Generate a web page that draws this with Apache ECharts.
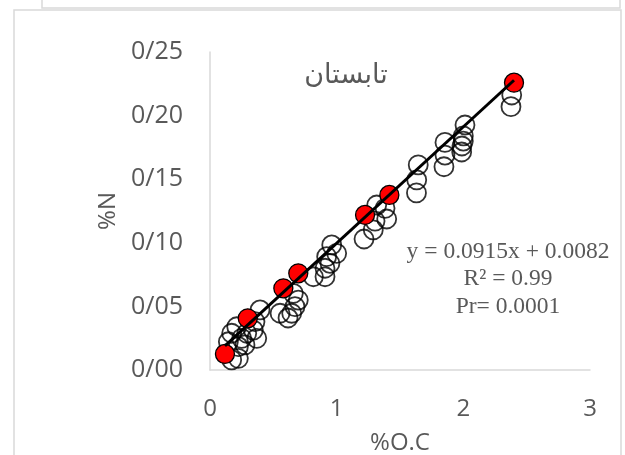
<!DOCTYPE html>
<html><head><meta charset="utf-8">
<script src="https://cdn.jsdelivr.net/npm/echarts@6/dist/echarts.min.js"></script>
<style>html,body{margin:0;padding:0;background:#fff}#c{width:625px;height:455px}</style>
</head><body><div id="c"></div>
<script>
// Open circles: [%O.C, %N]
const openX = [2.382, 2.376, 2.013, 2.000, 2.000, 1.989, 1.987, 1.855, 1.855, 1.847, 1.644, 1.632, 1.630,
  1.316, 1.382, 1.395, 1.303, 1.289, 1.216,
  0.961, 1.000, 0.921, 0.947, 0.908, 0.908, 0.816,
  0.658, 0.697, 0.671, 0.645, 0.616, 0.553,
  0.395, 0.355, 0.342, 0.369, 0.290, 0.250, 0.211, 0.171, 0.145, 0.224, 0.276, 0.224, 0.171];
const openY = [0.2162, 0.2070, 0.1926, 0.1840, 0.1800, 0.1761, 0.1714, 0.1789, 0.1690, 0.1598, 0.1612, 0.1494, 0.1392,
  0.1297, 0.1271, 0.1187, 0.1171, 0.1101, 0.1030,
  0.0983, 0.0917, 0.0891, 0.0839, 0.0800, 0.0733, 0.0733,
  0.0603, 0.0550, 0.0498, 0.0446, 0.0409, 0.0446,
  0.0472, 0.0380, 0.0314, 0.0249, 0.0289, 0.0249, 0.0340, 0.0289, 0.0222, 0.0183, 0.0197, 0.0092, 0.0079];
// Red (highlighted) points
const redX = [2.400, 1.416, 1.224, 0.697, 0.579, 0.298, 0.118];
const redY = [0.2259, 0.1376, 0.1219, 0.0760, 0.0642, 0.0406, 0.0126];
// Trendline
const slope = 0.0915, intercept = 0.0082;
const xTicks = [0, 1, 2, 3];
const yTicks = [0, 0.05, 0.10, 0.15, 0.20, 0.25];
const title = 'تابستان';
const eqLines = ['y = 0.0915x + 0.0082', 'R² = 0.99', 'Pr= 0.0001'];

const allX = openX.concat(redX);
const xmin = Math.min(...allX), xmax = Math.max(...allX);
const trend = [[xmin, slope * xmin + intercept], [xmax, slope * xmax + intercept]];

const chart = echarts.init(document.getElementById('c'), null, {renderer: 'canvas'});
const lab = '#595959', axisCol = '#d9d9d9', font = '"Open Sans", sans-serif';
chart.setOption({
  animation: false,
  grid: {left: 210, right: 35, top: 52, bottom: 85, containLabel: false, outerBoundsMode: 'none'},
  xAxis: {
    type: 'value', min: 0, max: 3, interval: 1,
    name: '%O.C', nameLocation: 'middle', nameGap: 61,
    nameTextStyle: {color: lab, fontSize: 24, fontFamily: font},
    axisLine: {show: true, lineStyle: {color: axisCol, width: 1.5}},
    axisTick: {show: false}, splitLine: {show: false},
    axisLabel: {color: lab, fontSize: 24, fontFamily: font, margin: 27,
      formatter: v => xTicks.includes(v) ? String(v) : ''}
  },
  yAxis: {
    type: 'value', min: 0, max: 0.25, interval: 0.05,
    name: '%N', nameLocation: 'middle', nameGap: 87, nameRotate: 90,
    nameTextStyle: {color: lab, fontSize: 24, fontFamily: font},
    axisLine: {show: true, lineStyle: {color: axisCol, width: 1.5}},
    axisTick: {show: false}, splitLine: {show: false},
    axisLabel: {color: lab, fontSize: 25, fontFamily: font, margin: 27, padding: [6, 0, 0, 0],
      formatter: v => v.toFixed(2).replace('.', '/')}
  },
  series: [
    {type: 'scatter', data: openX.map((x, i) => [x, openY[i]]), symbolSize: 19, z: 2,
      itemStyle: {color: 'rgba(0,0,0,0)', borderColor: '#000', borderWidth: 1.8}},
    {type: 'scatter', data: redX.map((x, i) => [x, redY[i]]), symbolSize: 19, z: 3,
      itemStyle: {color: '#ff0000', borderColor: '#000', borderWidth: 1.3, opacity: 1}},
    {type: 'line', data: trend, symbol: 'none', z: 4,
      lineStyle: {color: '#000', width: 3}}
  ],
  graphic: [
    {type: 'rect', shape: {x: 14, y: 10, width: 607, height: 460}, style: {fill: 'none', stroke: axisCol, lineWidth: 1.5}},
    {type: 'polyline', shape: {points: [[42, 0], [42, 8], [620, 8], [620, 0]]}, style: {fill: 'none', stroke: axisCol, lineWidth: 1.5}},
    {type: 'text', x: 346, y: 75, style: {text: title, fill: lab, fontSize: 27, fontFamily: '"Noto Sans", "DejaVu Sans", sans-serif', align: 'center', verticalAlign: 'middle'}},
    {type: 'text', x: 508, y: 252, style: {text: eqLines[0], fill: lab, fontSize: 23.5, fontFamily: '"Liberation Serif", serif', align: 'center', verticalAlign: 'middle'}},
    {type: 'text', x: 508, y: 279, style: {text: eqLines[1], fill: lab, fontSize: 23.5, fontFamily: '"Liberation Serif", serif', align: 'center', verticalAlign: 'middle'}},
    {type: 'text', x: 508, y: 307, style: {text: eqLines[2], fill: lab, fontSize: 23.5, fontFamily: '"Liberation Serif", serif', align: 'center', verticalAlign: 'middle'}}
  ]
});
</script></body></html>
